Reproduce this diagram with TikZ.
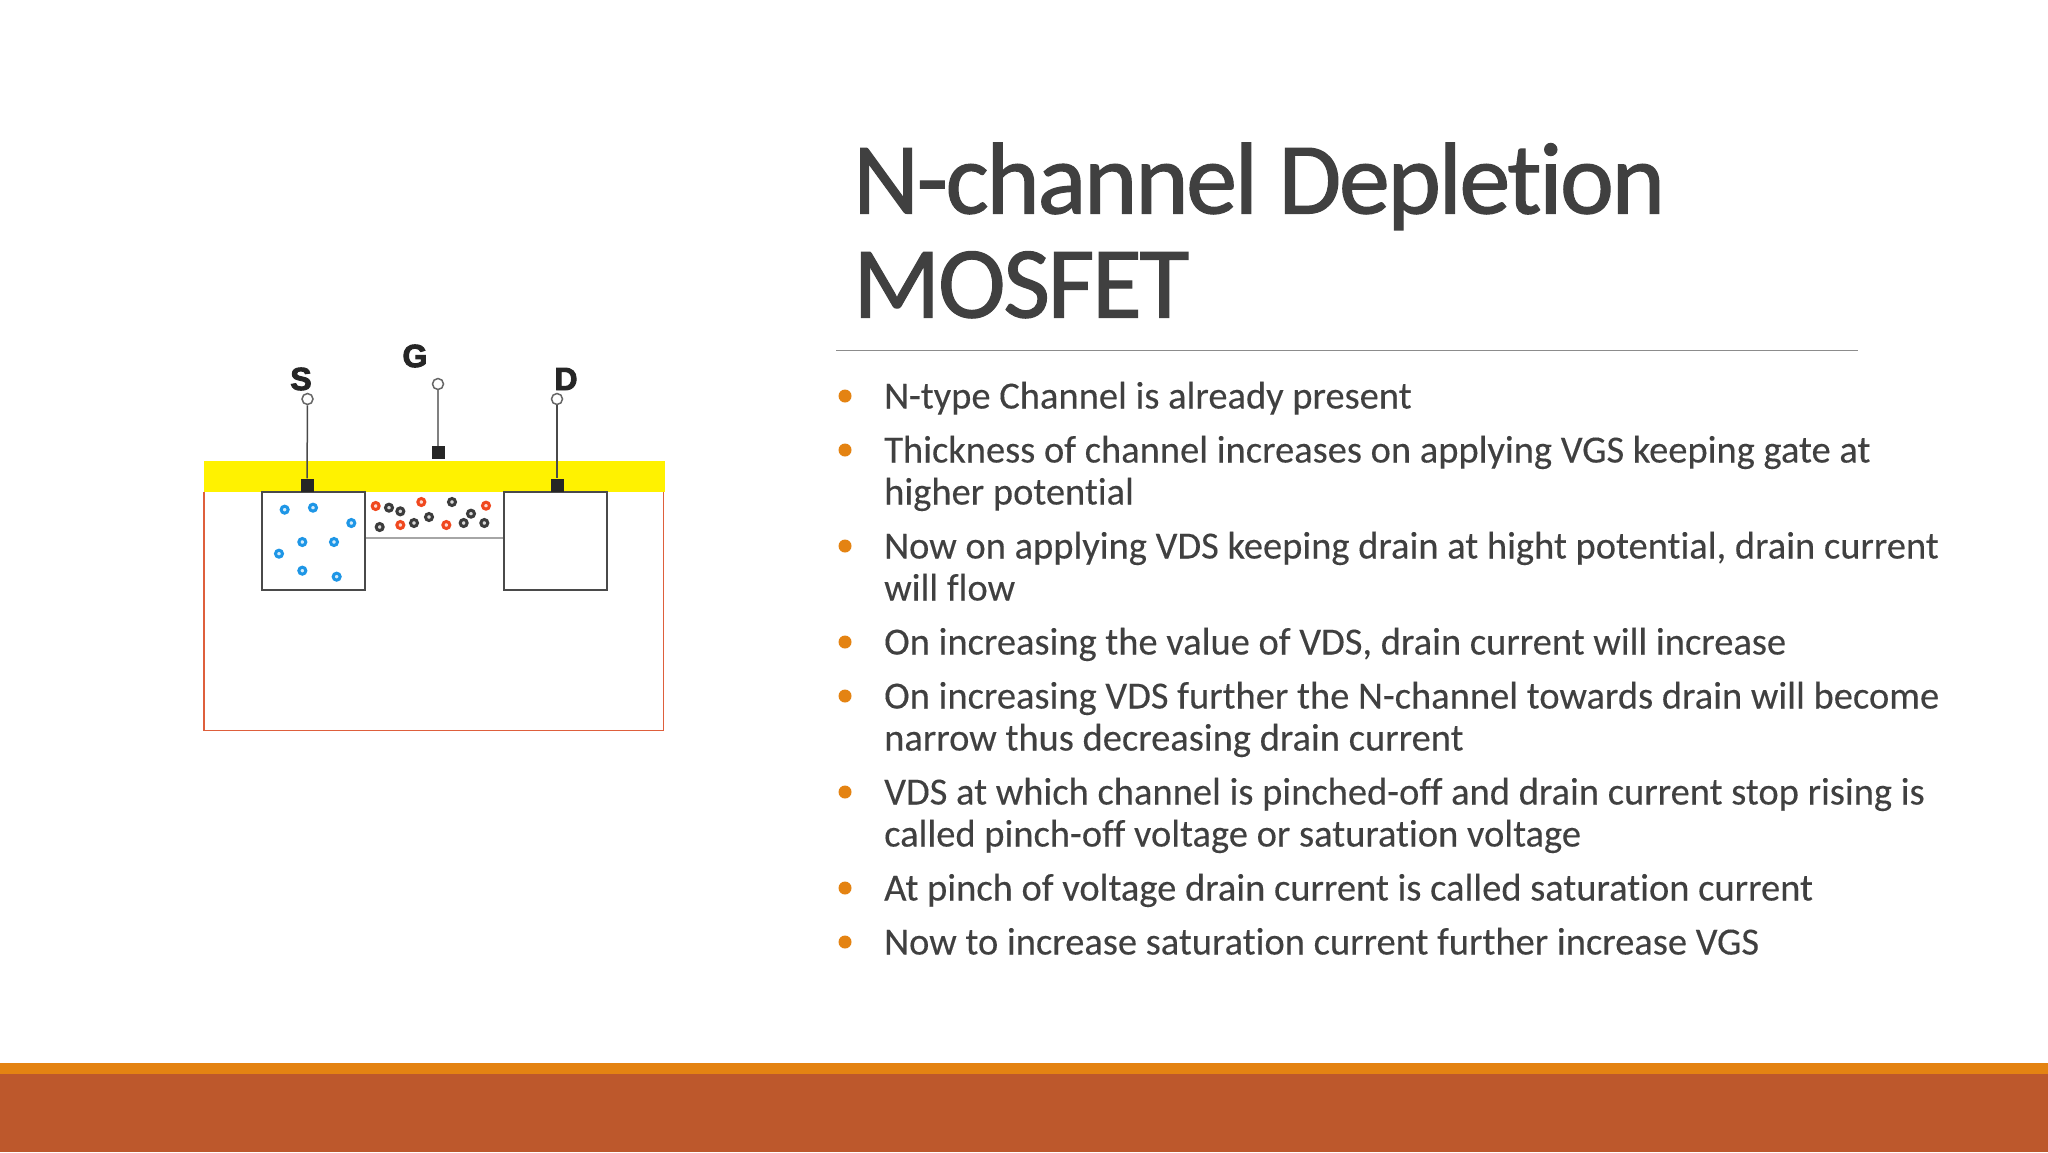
\documentclass[tikz,border=0pt]{standalone}
\usepackage{fontspec}
\setmainfont[Ligatures=NoCommon,FakeBold=0.2]{Carlito}
\newfontfamily\titlefont[Ligatures=NoCommon,FakeBold=1.1,LetterSpace=-2.35]{Carlito}
\newfontfamily\labelfont[BoldFeatures={FakeBold=3}]{Liberation Sans}
\definecolor{txtgrey}{HTML}{404040}
\definecolor{bandorange}{HTML}{E48312}
\definecolor{bandbrown}{HTML}{BD582C}
\definecolor{boxred}{HTML}{DE5F3C}
\definecolor{dotblue}{HTML}{1E96E6}
\definecolor{dotred}{HTML}{F0481E}
\definecolor{dotdark}{HTML}{3C3C3C}
\definecolor{wiregrey}{HTML}{4A4A4A}
\tikzset{
  bodytext/.style={anchor=base west,inner sep=0pt,text=txtgrey,font=\fontsize{38.5}{42}\selectfont},
  titletext/.style={anchor=base west,inner sep=0pt,text=txtgrey,font=\titlefont\fontsize{102}{105}\selectfont},
  bulletdot/.style={circle,fill=bandorange,inner sep=0pt,minimum size=13pt},
  termlabel/.style={inner sep=0pt,text=black!85,font=\labelfont\bfseries\fontsize{32}{32}\selectfont},
  pad/.style={fill=black!85,draw=none,inner sep=0pt,minimum size=13pt},
  openterm/.style={circle,draw=black!60,fill=white,line width=1.5pt,inner sep=0pt,minimum size=11pt},
  wire/.style={line width=1.5pt,draw=wiregrey},
  well/.style={draw=wiregrey,line width=1.5pt,fill=white},
  carrier/.style={circle,draw=#1,line width=3pt,fill=#1!20,inner sep=0pt,minimum size=7pt},
}
\begin{document}
\begin{tikzpicture}[x=1pt,y=-1pt]
\useasboundingbox (0,0) rectangle (2048,1152);
\fill[white] (0,0) rectangle (2048,1152);
% bottom bands
\fill[bandorange] (0,1063) rectangle (2048,1074);
\fill[bandbrown] (0,1074) rectangle (2048,1152);
% substrate and oxide
\draw[boxred,line width=1.8pt] (204,492) -- (204,730.5) -- (663.5,730.5) -- (663.5,492);
\fill[yellow] (203.5,461) rectangle (664.5,492);
% channel
\draw[black!35,line width=1.5pt] (365,538) -- (504,538);
% wells
\node[well,anchor=north west,inner sep=0pt,minimum width=103pt,minimum height=98pt] (source) at (261,491) {};
\node[well,anchor=north west,inner sep=0pt,minimum width=103pt,minimum height=98pt] (drain) at (503,491) {};
% terminals
\node[pad] (padS) at (307,485) {};
\node[pad] (padG) at (438,452.5) {};
\node[pad] (padD) at (557,485) {};
\node[openterm] (termS) at (307.5,399) {};
\node[openterm] (termG) at (438,384) {};
\node[openterm] (termD) at (557,399) {};
\draw[wire] (termS) -- (padS);
\draw[wire,draw=black!50] (termG) -- (padG);
\draw[wire] (termD) -- (padD);
\node[termlabel] (labS) at (301,379) {S};
\node[termlabel] (labG) at (415,356) {G};
\node[termlabel] (labD) at (566,379) {D};
% electrons in the source
\foreach \i/\a/\b in {1/284/539,2/369/533,3/484/579,4/337/636,5/432/636,6/267/671,7/337/722,8/440/740}
  \node[carrier=dotblue] (b\i) at ({190+\a/3},{330+\b/3}) {};
% carriers in the channel
\foreach \i/\a/\b in {1/77/198,2/214/186,3/151/255,4/289/255,5/408/197}
  \node[carrier=dotred] (r\i) at ({350+\a/3},{440+\b/3}) {};
\foreach \i/\a/\b in {1/117/203,2/151/214,3/89/261,4/192/249,5/237/231,6/306/186,7/363/221,8/341/249,9/403/249}
  \node[carrier=dotdark] (k\i) at ({350+\a/3},{440+\b/3}) {};
% title
\node[titletext] (t1) at (853,213.5) {N-channel Depletion};
\node[titletext] (t2) at (853,317.5) {MOSFET};
\draw[black!45,line width=1.2pt] (836,350.5) -- (1858,350.5);
% bullets
\foreach \i/\y in {1/396,2/450,3/546,4/642,5/696,6/792,7/888,8/942}
  \node[bulletdot] (bul\i) at (845,\y) {};
\node[bodytext] (l1) at (884,408.5) {N-type Channel is already present};
\node[bodytext] (l2) at (884,462.5) {Thickness of channel increases on applying VGS keeping gate at};
\node[bodytext] (l3) at (884,504.5) {higher potential};
\node[bodytext] (l4) at (884,558.5) {Now on applying VDS keeping drain at hight potential, drain current};
\node[bodytext] (l5) at (884,600.5) {will flow};
\node[bodytext] (l6) at (884,654.5) {On increasing the value of VDS, drain current will increase};
\node[bodytext] (l7) at (884,708.5) {On increasing VDS further the N-channel towards drain will become};
\node[bodytext] (l8) at (884,750.5) {narrow thus decreasing drain current};
\node[bodytext] (l9) at (884,804.5) {VDS at which channel is pinched-off and drain current stop rising is};
\node[bodytext] (l10) at (884,846.5) {called pinch-off voltage or saturation voltage};
\node[bodytext] (l11) at (884,900.5) {At pinch of voltage drain current is called saturation current};
\node[bodytext] (l12) at (884,954.5) {Now to increase saturation current further increase VGS};
\end{tikzpicture}
\end{document}
